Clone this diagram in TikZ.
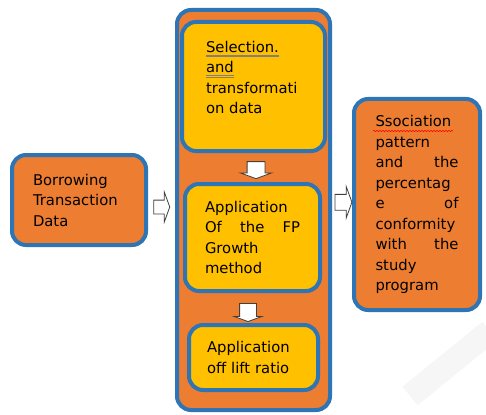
\documentclass[tikz,border=0pt]{standalone}
\usepackage{fontspec}
\setmainfont{DejaVu Sans}
\usetikzlibrary{shapes.arrows,calc,shadows,decorations.pathmorphing}
\definecolor{boxorange}{HTML}{ED7D31}
\definecolor{boxyellow}{HTML}{FFC000}
\definecolor{boxblue}{HTML}{2E75B6}
\newlength{\marklen}
\newcommand{\grammarmark}[1]{\settowidth{\marklen}{#1}\rlap{#1}{\color{gray}\rule[-3pt]{\marklen}{0.7pt}\hspace{-\marklen}\rule[-4.6pt]{\marklen}{0.7pt}}}

\begin{document}
\begin{tikzpicture}[x=1pt,y=-1pt,
  box/.style={draw=boxblue,line width=4pt,rounded corners=14pt,inner sep=0pt,
    font=\fontsize{14.8}{20.5}\selectfont,
    drop shadow={shadow xshift=1.5pt,shadow yshift=-1.5pt,fill=brown!70!black,opacity=.45}},
  orangebox/.style={box,fill=boxorange},
  yellowbox/.style={box,fill=boxyellow},
  blockarrow/.style={single arrow,draw=black!75,fill=white,line width=0.8pt,
    inner xsep=0pt,single arrow tip angle=140}]
\useasboundingbox (0,0) rectangle (486,414);
% faint mark in the corner
\draw[gray!7,line width=24pt] (410,396) -- (490,331);

\node[orangebox,minimum width=134,minimum height=90,text width=92,align=left] (borrow) at (79,200)
  {Borrowing\newline Transaction\newline Data};
\node[orangebox,minimum width=153,minimum height=400] (frame) at (253.5,210) {};
\node[yellowbox,minimum width=143,minimum height=129,text width=95,align=justify] (select) at (253.5,86.5)
  {\grammarmark{Selection.}\newline \grammarmark{and}\newline transformati\newline on data\par\vspace{18pt}\nointerlineskip\hbox{}};
\node[yellowbox,minimum width=135,minimum height=107,text width=95,align=justify] (fpgrowth) at (252.5,237.5)
  {Application\newline Of the FP\linebreak Growth\newline method};
\node[yellowbox,minimum width=129,minimum height=65,text width=93,align=left] (lift) at (253.5,357.5)
  {Application\newline off lift ratio};
\node[orangebox,minimum width=126,minimum height=211,text width=83,align=justify] (result) at (417,204.5)
  {Ssociation\newline pattern\newline and the\linebreak percentag\newline e of\linebreak conformity\newline with the\linebreak study\newline program};
% spelling mark
\draw[red,line width=0.6pt,decorate,decoration={snake,amplitude=0.7pt,segment length=3pt}]
  ($(result.north west)+(21,34)$) -- ++(80,0);

% block arrows between the boxes
\node[blockarrow,inner ysep=6.5pt,single arrow head extend=8pt,minimum height=16] (arr1)
  at ($(borrow.east)!.5!(frame.west)+(-1,2)$) {};
\node[blockarrow,inner ysep=8.5pt,single arrow head extend=6.5pt,minimum height=17,rotate=-90] (arr2)
  at ($(select.south)!.5!(fpgrowth.north)+(3,1)$) {};
\node[blockarrow,inner ysep=8pt,single arrow head extend=5.5pt,minimum height=18,rotate=-90] (arr3)
  at ($(fpgrowth.south)!.5!(lift.north)+(-5,3)$) {};
\node[blockarrow,inner ysep=7.5pt,single arrow head extend=8pt,minimum height=17] (arr4)
  at ($(frame.east)!.5!(result.west)+(0,-5)$) {};
\end{tikzpicture}
\end{document}
